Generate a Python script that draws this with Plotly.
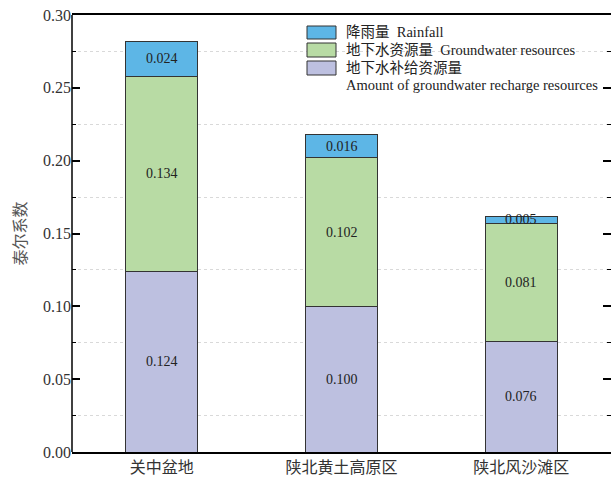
import plotly.graph_objects as go

categories = ["关中盆地", "陕北黄土高原区", "陕北风沙滩区"]
recharge = [0.124, 0.100, 0.076]
groundwater = [0.134, 0.102, 0.081]
rainfall = [0.024, 0.016, 0.005]

series = [
    ("地下水补给资源量<br>Amount of groundwater recharge resources", recharge, "#BDC0E0"),
    ("地下水资源量  Groundwater resources", groundwater, "#B8DBA4"),
    ("降雨量  Rainfall", rainfall, "#5DB6E6"),
]

FONT = "Liberation Serif, Times New Roman, Noto Sans CJK SC, serif"

fig = go.Figure()
annotations = []
base = [0.0] * len(categories)
for name, vals, color in series:
    fig.add_trace(go.Bar(
        x=categories, y=vals, name=name, width=0.4,
        marker=dict(color=color, line=dict(color="#333333", width=1)),
        showlegend=False,
    ))
    for i, v in enumerate(vals):
        annotations.append(dict(
            x=categories[i], y=base[i] + v / 2, xref="x", yref="y",
            text=f"{v:.3f}", showarrow=False,
            font=dict(family=FONT, size=14, color="#222222"),
        ))
        base[i] += v

# manual legend
L, T = 72, 15
W, H = 611 - 72, 452 - 15
def px(x):
    return (x - L) / W
def py(y):
    return (452 - y) / H

shapes = []
legend_rows = [
    ("#5DB6E6", 26, 39, "降雨量  Rainfall", 32),
    ("#B8DBA4", 43, 57, "地下水资源量  Groundwater resources", 50),
    ("#BDC0E0", 61, 75, "地下水补给资源量", 68),
]
for color, y0, y1, txt, yc in legend_rows:
    shapes.append(dict(type="rect", xref="paper", yref="paper",
                       x0=px(307), x1=px(336), y0=py(y1), y1=py(y0),
                       fillcolor=color, line=dict(color="#333333", width=1)))
    annotations.append(dict(x=px(344), y=py(yc), xref="paper", yref="paper",
                            xanchor="left", yanchor="middle", showarrow=False,
                            text=txt, font=dict(family=FONT, size=14.5, color="#222222")))
annotations.append(dict(x=px(344), y=py(85), xref="paper", yref="paper",
                        xanchor="left", yanchor="middle", showarrow=False,
                        text="Amount of groundwater recharge resources",
                        font=dict(family=FONT, size=14.5, color="#222222")))
# left spine
shapes.append(dict(type="line", xref="paper", yref="paper", x0=0, x1=0, y0=0, y1=1,
                   line=dict(color="black", width=1.5)))

fig.update_layout(
    width=611, height=477,
    margin=dict(l=72, r=0, t=15, b=25),
    barmode="stack",
    plot_bgcolor="white", paper_bgcolor="white",
    font=dict(family=FONT, size=16, color="#333333"),
    annotations=annotations, shapes=shapes,
    showlegend=False,
)
fig.update_xaxes(
    range=[-0.5, 2.5], showline=True, linecolor="black", linewidth=1.5, mirror=True,
    ticks="", showgrid=False,
    tickfont=dict(family=FONT, size=16, color="#333333"),
)
fig.update_yaxes(
    range=[0, 0.30], dtick=0.05, tickformat=".2f", showline=False, mirror="ticks",
    ticks="inside", ticklen=8, tickwidth=1.5, tickcolor="black", showgrid=False, zeroline=False,
    tickfont=dict(family=FONT, size=16, color="#333333"),
    minor=dict(dtick=0.025, ticks="inside", ticklen=4, tickwidth=1, tickcolor="black",
               showgrid=True, gridcolor="#D9D9D9", griddash="dot", gridwidth=1),
    title=dict(text="泰尔系数", font=dict(family=FONT, size=16, color="#555555"), standoff=12),
)

fig.write_html("out.html")
